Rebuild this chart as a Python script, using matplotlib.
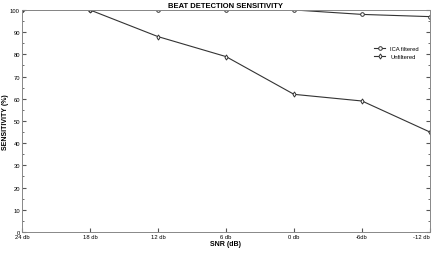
import matplotlib
matplotlib.use("Agg")
import matplotlib.pyplot as plt
from matplotlib.ticker import MultipleLocator

plt.rcParams["font.family"] = ["Liberation Sans", "DejaVu Sans"]

snr_labels = ["24 db", "18 db", "12 db", "6 db", "0 db", "-6db", "-12 db"]
ica_filtered = [100, 100, 100, 100, 100, 98, 97]
unfiltered = [100, 100, 88, 79, 62, 59, 45]

LINE = "#333333"

fig = plt.figure(figsize=(4.37, 2.55), dpi=100)
ax = fig.add_axes([0.0503, 0.0863, 0.9337, 0.8707])

x = range(len(snr_labels))
ax.plot(x, ica_filtered, "-o", color=LINE, linewidth=0.8, markersize=2.6,
        markerfacecolor="white", markeredgewidth=0.7, label="ICA filtered")
ax.plot(x, unfiltered, "-d", color=LINE, linewidth=0.8, markersize=2.6,
        markerfacecolor="white", markeredgewidth=0.7, label="Unfiltered")

ax.set_xlim(0, len(snr_labels) - 1)
ax.set_ylim(0, 100)
ax.set_xticks(list(x))
ax.set_xticklabels(snr_labels)
ax.yaxis.set_major_locator(MultipleLocator(10))
ax.yaxis.set_minor_locator(MultipleLocator(5))
ax.tick_params(axis="both", which="both", direction="in", labelsize=4.2,
               color="#555555", pad=1.5)
ax.tick_params(axis="y", which="both", right=True, labelright=False)
ax.tick_params(axis="y", which="major", length=3)
ax.tick_params(axis="y", which="minor", length=1.5)
ax.tick_params(axis="x", length=3)
ax.get_xticklabels()[-1].set_horizontalalignment("right")
ax.get_xticklabels()[-1].set_x(0)

for side in ["top", "bottom", "left", "right"]:
    ax.spines[side].set_color("#888888")
    ax.spines[side].set_linewidth(0.7)

ax.set_title("BEAT DETECTION SENSITIVITY", fontsize=5.5, fontweight="bold", pad=2)
ax.set_xlabel("SNR (dB)", fontsize=5, fontweight="bold", labelpad=1)
ax.set_ylabel("SENSITIVITY (%)", fontsize=5, fontweight="bold", labelpad=1)

ax.legend(loc="upper right", bbox_to_anchor=(0.985, 0.86), frameon=False,
          fontsize=4.2, handlelength=2.0, labelspacing=0.4)

fig.savefig("out.png", dpi=100)
